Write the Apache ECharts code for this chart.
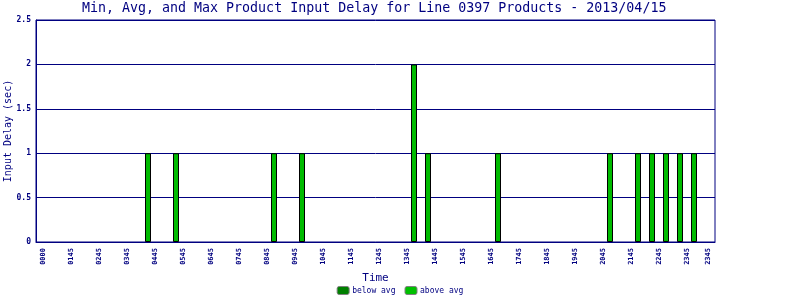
<!DOCTYPE html>
<html><head><meta charset="utf-8">
<script src="https://cdn.jsdelivr.net/npm/echarts@6/dist/echarts.min.js"></script>
<style>html,body{margin:0;padding:0;background:#fff}#c{width:800px;height:300px}</style>
</head><body><div id="c"></div>
<script>
// 15-minute bins across the day (index 0..95)
const binCount = 96;
const tickLabels = ['0000','0145','0245','0345','0445','0545','0645','0745','0845','0945','1045','1145','1245','1345','1445','1545','1645','1745','1845','1945','2045','2145','2245','2345','2345'];
const tickBins   = [0,4,8,12,16,20,24,28,32,36,40,44,48,52,56,60,64,68,72,76,80,84,88,92,95];
const barBins    = [15,19,33,37,53,55,65,81,85,87,89,91,93];
const aboveAvg   = [1,1,1,1,2,1,1,1,1,1,1,1,1];
const belowAvgBins = [];
const belowAvg     = [];
const yTicks = [0,0.5,1,1.5,2,2.5];

const navy = '#000080';
const mono = 'DejaVu Sans Mono';
// slots -1 .. binCount (padding slot on both ends)
const slots = [];
for (let i = -1; i <= binCount; i++) slots.push(String(i));
function seriesData(bins, vals){
  const d = slots.map(() => '-');
  bins.forEach((b, k) => { d[b + 1] = vals[k]; });
  return d;
}
const chart = echarts.init(document.getElementById('c'), null, {renderer:'canvas'});
chart.setOption({
  animation:false,
  backgroundColor:'#fff',
  title:{text:'Min, Avg, and Max Product Input Delay for Line 0397 Products - 2013/04/15',
    left:82, top:2, padding:0, textStyle:{fontFamily:mono, fontSize:13.3, fontWeight:'normal', color:navy}},
  grid:{left:36, top:20, width:679, height:222, show:true, borderColor:navy, borderWidth:1,
    containLabel:false, outerBoundsMode:'none'},
  legend:{bottom:0, left:'center', itemWidth:12, itemHeight:8, itemGap:9,
    textStyle:{fontFamily:mono, fontSize:8, color:navy, padding:[0,0,0,-2]},
    data:[{name:'below avg', itemStyle:{color:'#008000', borderColor:'#808080', borderWidth:1}},
          {name:'above avg', itemStyle:{color:'#00c000', borderColor:'#808080', borderWidth:1}}]},
  xAxis:{type:'category', data:slots, boundaryGap:false,
    name:'Time', nameLocation:'middle', nameGap:31, nameMoveOverlap:false,
    nameTextStyle:{fontFamily:mono, fontSize:11, color:navy},
    axisLine:{lineStyle:{color:navy}}, axisTick:{show:false},
    axisLabel:{rotate:90, margin:6, fontFamily:mono, fontSize:7, fontWeight:'bold', color:navy,
      hideOverlap:false,
      interval:(idx) => tickBins.indexOf(idx - 1) >= 0,
      formatter:(v, idx) => { const k = tickBins.indexOf(idx - 1); return k >= 0 ? tickLabels[k] : ''; }},
    splitLine:{show:false}},
  yAxis:{type:'value', min:yTicks[0], max:yTicks[yTicks.length-1], interval:0.5,
    name:'Input Delay (sec)', nameLocation:'middle', nameGap:23, nameMoveOverlap:false,
    nameTextStyle:{fontFamily:mono, fontSize:10, color:navy},
    axisLine:{show:true, lineStyle:{color:navy}}, axisTick:{show:false},
    axisLabel:{margin:5, fontFamily:mono, fontSize:8, fontWeight:'bold', color:navy},
    splitLine:{lineStyle:{color:navy, width:1}}},
  series:[
    {name:'below avg', type:'bar', stack:'d', barWidth:6, data:seriesData(belowAvgBins, belowAvg),
      itemStyle:{color:'#008000', borderColor:'#000', borderWidth:1}},
    {name:'above avg', type:'bar', stack:'d', barWidth:6, data:seriesData(barBins, aboveAvg),
      itemStyle:{color:'#00bb00', borderColor:'#000', borderWidth:1}}
  ]
});
</script></body></html>
